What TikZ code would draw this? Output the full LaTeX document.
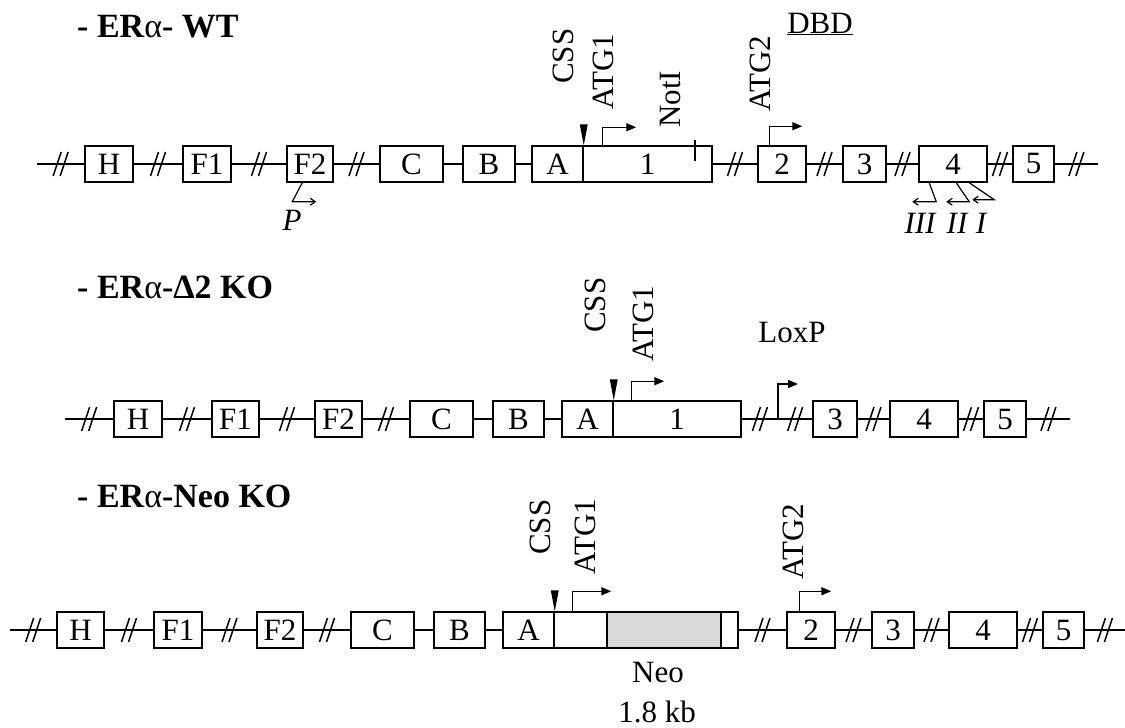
\documentclass[tikz,border=0pt]{standalone}
\usepackage{fontspec}
\setmainfont{Liberation Serif}
\usetikzlibrary{arrows.meta,calc}

\begin{document}
\begin{tikzpicture}[x=1pt,y=-1pt,
  every node/.style={font=\fontsize{31}{36}\selectfont},
  dna/.style={line width=1.5pt},
  exon/.style={draw,line width=1.5pt,minimum height=36,inner sep=0pt,fill=white},
  tss/.style={line width=1.5pt,-{Triangle[length=10pt,width=8pt]}},
  prom/.style={line width=1.2pt,-{Straight Barb[length=5pt,width=7pt]}},
  rlbl/.style={rotate=90,anchor=west,inner sep=0pt},
  ttl/.style={anchor=base west,inner sep=0pt,font=\fontsize{34}{40}\selectfont\bfseries},
  brk/.pic={\draw[line width=1.5pt] (-7.5,12) -- (0.5,-12) (-0.5,12) -- (7.5,-12);}]
\useasboundingbox (0,0) rectangle (1125,728);

% Wild type
\node[ttl] (wtT) at (77,37) {- ER{\mdseries α}- WT};
\coordinate (wtS) at (37,164);
\coordinate (wtE) at (1098,164);
\node[exon,minimum width=48] (wtH) at (109,164) {H};
\node[exon,minimum width=48] (wtF1) at (207,164) {F1};
\node[exon,minimum width=46] (wtF2) at (310,164) {F2};
\node[exon,minimum width=63] (wtC) at (411.5,164) {C};
\node[exon,minimum width=52] (wtB) at (489,164) {B};
\node[exon,minimum width=51] (wtA) at (557.5,164) {A};
\node[exon,minimum width=129] (wt1) at (647.5,164) {1};
\node[exon,minimum width=48] (wt2) at (782,164) {2};
\node[exon,minimum width=43] (wt3) at (864.5,164) {3};
\node[exon,minimum width=68] (wt4) at (953,164) {4};
\node[exon,minimum width=41] (wt5) at (1033.5,164) {5};
\foreach \u/\v in {wtS/wtH,wtH/wtF1,wtF1/wtF2,wtF2/wtC,wt1/wt2,wt2/wt3,wt3/wt4,wt4/wt5,wt5/wtE}
  {\draw[dna] (\u) -- coordinate (m) (\v); \pic at (m) {brk};}
\foreach \u/\v in {wtC/wtB,wtB/wtA}
  \draw[dna] (\u) -- (\v);
\fill (wtA.north east) -- ++(-4,-21) -- ++(8,0) -- cycle;
\draw[tss] ($(wt1.north west)+(20,0)$) -- ++(0,-18) -- ++(34,0);
\draw[tss] ($(wt2.north west)+(12,0)$) -- ++(0,-19) -- ++(33,0);
\draw[dna] ($(wt1.north east)+(-18,-5)$) -- ++(0,21);
\draw[prom] ($(wtF2.south west)+(16,0)$) -- ++(-10,19) -- ++(24,0);
\draw[prom] ($(wt4.south west)+(11,0)$) -- ++(7,19) -- ++(-24,0);
\draw[prom] ($(wt4.south west)+(38,0)$) -- ++(13,19) -- ++(-23,0);
\draw[prom] ($(wt4.south west)+(51,0)$) -- ++(25,17) -- ++(-22,0);
% Labels
\node[rlbl] (wtCSS) at (563,84) {CSS};
\node[rlbl] (wtATG1) at (603,110) {ATG1};
\node[rlbl] (wtNot) at (670,128) {NotI};
\node[rlbl] (wtATG2) at (760,112) {ATG2};
\node[anchor=base,inner sep=0pt] (wtDBD) at (820,33) {\underline{DBD}};
\node[anchor=base,inner sep=0pt] (wtP) at (292,230) {\itshape P};
\node[anchor=base,inner sep=0pt] (wtIII) at (920,233) {\itshape III};
\node[anchor=base,inner sep=0pt] (wtII) at (957,233) {\itshape II};
\node[anchor=base,inner sep=0pt] (wtI) at (981,233) {\itshape I};

% Delta 2
\node[ttl] (koT) at (77,298) {- ER{\mdseries α}-Δ2 KO};
\coordinate (koS) at (65,419);
\coordinate (koE) at (1070,419);
\coordinate (koL) at (778,419);
\node[exon,minimum width=48] (koH) at (138,419) {H};
\node[exon,minimum width=47] (koF1) at (235.5,419) {F1};
\node[exon,minimum width=47] (koF2) at (338.5,419) {F2};
\node[exon,minimum width=63] (koC) at (441.5,419) {C};
\node[exon,minimum width=51] (koB) at (518.5,419) {B};
\node[exon,minimum width=51] (koA) at (587.5,419) {A};
\node[exon,minimum width=128] (ko1) at (677,419) {1};
\node[exon,minimum width=44] (ko3) at (835,419) {3};
\node[exon,minimum width=68] (ko4) at (924,419) {4};
\node[exon,minimum width=42] (ko5) at (1005,419) {5};
\foreach \u/\v in {koS/koH,koH/koF1,koF1/koF2,koF2/koC,ko1/koL,koL/ko3,ko3/ko4,ko4/ko5,ko5/koE}
  {\draw[dna] (\u) -- coordinate (m) (\v); \pic at (m) {brk};}
\foreach \u/\v in {koC/koB,koB/koA}
  \draw[dna] (\u) -- (\v);
\fill (koA.north east) -- ++(-4,-21) -- ++(8,0) -- cycle;
\draw[tss] ($(ko1.north west)+(19,0)$) -- ++(0,-19) -- ++(33,0);
\draw[tss] (koL) -- ++(0,-35) -- ++(20,0);
\node[rlbl] (koCSS) at (595,333) {CSS};
\node[rlbl] (koATG1) at (643,362) {ATG1};
\node[anchor=base,inner sep=0pt] (koLox) at (792,342) {LoxP};

% Neo
\node[ttl] (neoT) at (77,507) {- ER{\mdseries α}-Neo KO};
\coordinate (neoS) at (10,630);
\coordinate (neoE) at (1125,630);
\node[exon,minimum width=47] (neoH) at (80.5,630) {H};
\node[exon,minimum width=48] (neoF1) at (178,630) {F1};
\node[exon,minimum width=46] (neoF2) at (280,630) {F2};
\node[exon,minimum width=63] (neoC) at (382.5,630) {C};
\node[exon,minimum width=51] (neoB) at (459.5,630) {B};
\node[exon,minimum width=51] (neoA) at (528.5,630) {A};
\node[exon,minimum width=53] (neo1a) at (580.5,630) {};
\node[exon,minimum width=114,fill=black!15] (neoN) at (664,630) {};
\node[exon,minimum width=17] (neo1b) at (729.5,630) {};
\node[exon,minimum width=48] (neo2) at (811,630) {2};
\node[exon,minimum width=42] (neo3) at (893,630) {3};
\node[exon,minimum width=68] (neo4) at (983,630) {4};
\node[exon,minimum width=41] (neo5) at (1063.5,630) {5};
\foreach \u/\v in {neoS/neoH,neoH/neoF1,neoF1/neoF2,neoF2/neoC,neo1b/neo2,neo2/neo3,neo3/neo4,neo4/neo5,neo5/neoE}
  {\draw[dna] (\u) -- coordinate (m) (\v); \pic at (m) {brk};}
\foreach \u/\v in {neoC/neoB,neoB/neoA}
  \draw[dna] (\u) -- (\v);
\fill (neoA.north east) -- ++(-4,-21) -- ++(8,0) -- cycle;
\draw[tss] ($(neo1a.north west)+(19,0)$) -- ++(0,-20) -- ++(39,0);
\draw[tss] ($(neo2.north west)+(13,0)$) -- ++(0,-20) -- ++(32,0);
\node[rlbl] (neoCSS) at (540,555) {CSS};
\node[rlbl] (neoATG1) at (585,575) {ATG1};
\node[rlbl] (neoATG2) at (793,580) {ATG2};
\node[anchor=base,inner sep=0pt] (neoLbl) at (658,682) {Neo};
\node[anchor=base,inner sep=0pt] (neoKb) at (657,722) {1.8 kb};
\end{tikzpicture}
\end{document}
